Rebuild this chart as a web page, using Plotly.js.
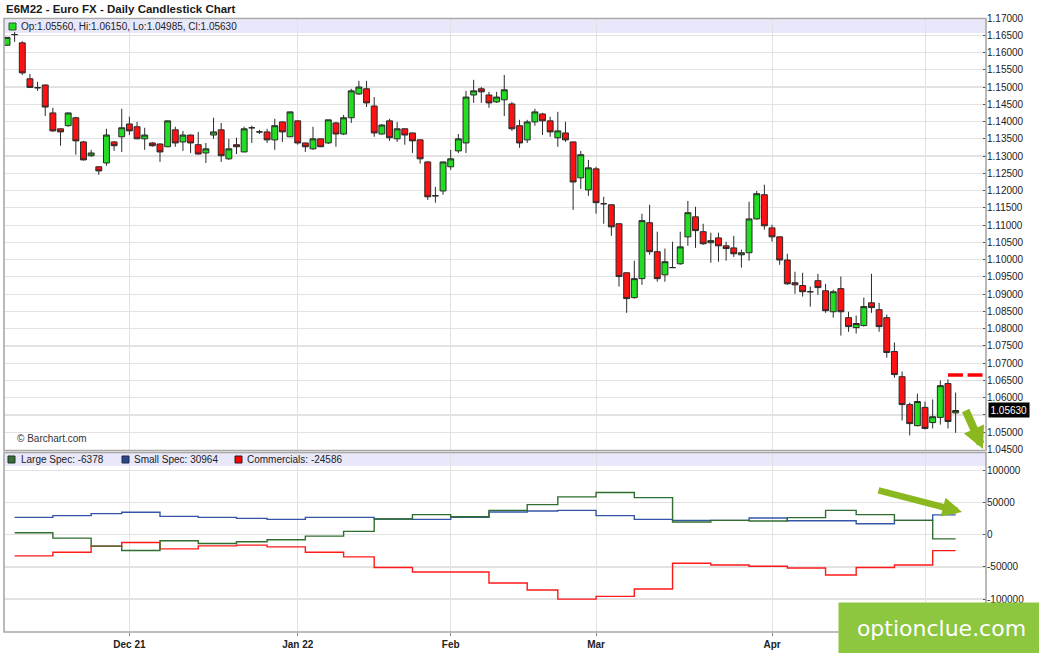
<!DOCTYPE html>
<html><head><meta charset="utf-8">
<script src="https://cdn.plot.ly/plotly-3.0.1.min.js"></script>
<style>html,body{margin:0;padding:0;background:#fff}#chart{width:1039px;height:653px}</style>
</head><body>
<div id="chart"></div>
<script>
// ---- Daily candles (index 0 = Nov 8 2021, trading days) ----
const opens = [1.1621,1.1652,1.1628,1.1524,1.1498,1.1506,1.1425,1.1379,1.1388,1.1411,
1.1341,1.1301,1.1269,1.1280,1.1341,1.1356,1.1393,1.1385,1.1350,1.1338,
1.1335,1.1327,1.1376,1.1341,1.1361,1.1333,1.1309,1.1361,1.1376,1.1292,
1.1333,1.1312,1.1382,1.1370,1.1370,1.1347,1.1399,1.1356,1.1402,1.1338,
1.1321,1.1350,1.1338,1.1396,1.1364,1.1411,1.1480,1.1495,1.1445,1.1364,
1.1402,1.1350,1.1379,1.1367,1.1347,1.1283,1.1185,1.1199,1.1269,1.1315,
1.1338,1.1477,1.1495,1.1477,1.1457,1.1463,1.1451,1.1388,1.1347,1.1399,
1.1422,1.1402,1.1353,1.1367,1.1341,1.1237,1.1202,1.1263,1.1162,1.1159,
1.1104,1.0962,1.0890,1.0945,1.1107,1.1023,1.0956,1.0977,1.0988,1.1066,
1.1124,1.1081,1.1049,1.1063,1.1040,1.1034,1.1014,1.1020,1.1118,1.1188,
1.1092,1.1066,1.0999,1.0933,1.0925,1.0907,1.0939,1.0910,1.0849,1.0916,
1.0832,1.0803,1.0809,1.0875,1.0855,1.0832,1.0734,1.0661,1.0580,1.0519,
1.0572,1.0528,1.0543,1.0641,1.05560];
const highs = [1.1645,1.1659,1.1633,1.1538,1.1515,1.1507,1.1440,1.1380,1.1426,1.1414,
1.1344,1.1318,1.1270,1.1379,1.1343,1.1437,1.1414,1.1399,1.1382,1.1341,
1.1337,1.1403,1.1385,1.1373,1.1362,1.1370,1.1338,1.1411,1.1396,1.1350,
1.1353,1.1385,1.1388,1.1376,1.1379,1.1408,1.1400,1.1429,1.1403,1.1339,
1.1385,1.1350,1.1405,1.1399,1.1419,1.1495,1.1518,1.1518,1.1471,1.1393,
1.1408,1.1399,1.1380,1.1368,1.1348,1.1285,1.1211,1.1284,1.1318,1.1364,
1.1489,1.1521,1.1500,1.1486,1.1486,1.1535,1.1457,1.1405,1.1405,1.1437,
1.1425,1.1414,1.1428,1.1399,1.1342,1.1315,1.1289,1.1269,1.1182,1.1160,
1.1105,1.0963,1.0997,1.1133,1.1159,1.1081,1.1032,1.1052,1.1081,1.1170,
1.1153,1.1104,1.1078,1.1078,1.1052,1.1069,1.1029,1.1168,1.1199,1.1217,
1.1101,1.1067,1.1017,1.0965,1.0962,1.0922,1.0959,1.0930,1.0913,1.0951,
1.0849,1.0838,1.0890,1.0959,1.0875,1.0841,1.0760,1.0676,1.0586,1.0612,
1.0589,1.0595,1.0650,1.0653,1.06150];
const lows = [1.1619,1.1631,1.1535,1.1497,1.1489,1.1416,1.1370,1.1330,1.1385,1.1304,
1.1287,1.1298,1.1246,1.1272,1.1315,1.1312,1.1361,1.1349,1.1318,1.1327,
1.1283,1.1326,1.1327,1.1315,1.1309,1.1304,1.1280,1.1350,1.1283,1.1289,
1.1306,1.1311,1.1338,1.1364,1.1338,1.1318,1.1341,1.1355,1.1333,1.1312,
1.1318,1.1326,1.1335,1.1327,1.1361,1.1396,1.1477,1.1442,1.1356,1.1362,
1.1344,1.1341,1.1333,1.1309,1.1278,1.1173,1.1165,1.1188,1.1260,1.1309,
1.1309,1.1454,1.1454,1.1440,1.1454,1.1416,1.1373,1.1324,1.1338,1.1388,
1.1361,1.1356,1.1327,1.1341,1.1144,1.1205,1.1185,1.1133,1.1104,1.1069,
1.0922,1.0846,1.0887,1.0927,1.1014,1.0936,1.0936,1.0976,1.0985,1.1040,
1.1034,1.1043,1.0991,1.0994,1.0997,1.1008,1.0977,1.0997,1.1116,1.1087,
1.1052,1.0985,1.0927,1.0901,1.0893,1.0864,1.0898,1.0846,1.0832,1.0780,
1.0791,1.0786,1.0806,1.0846,1.0791,1.0716,1.0658,1.0534,1.0491,1.0517,
1.0508,1.0511,1.0522,1.0511,1.04985];
const closes = [1.1644,1.1652,1.1541,1.1499,1.1498,1.1442,1.1373,1.1370,1.1425,1.1344,
1.1289,1.1309,1.1257,1.1361,1.1330,1.1382,1.1373,1.1350,1.1361,1.1330,
1.1312,1.1402,1.1338,1.1361,1.1338,1.1306,1.1321,1.1370,1.1301,1.1321,
1.1327,1.1379,1.1382,1.1370,1.1347,1.1388,1.1370,1.1428,1.1338,1.1327,
1.1350,1.1327,1.1405,1.1364,1.1411,1.1489,1.1500,1.1454,1.1367,1.1390,
1.1353,1.1379,1.1361,1.1344,1.1292,1.1182,1.1185,1.1283,1.1292,1.1350,
1.1471,1.1489,1.1486,1.1454,1.1471,1.1492,1.1379,1.1338,1.1399,1.1428,
1.1402,1.1370,1.1373,1.1347,1.1225,1.1304,1.1266,1.1165,1.1162,1.1095,
1.0951,1.0887,1.0945,1.1113,1.1023,1.0945,1.0994,1.0977,1.1037,1.1136,
1.1084,1.1046,1.1055,1.1040,1.1032,1.1017,1.1020,1.1118,1.1191,1.1098,
1.1066,1.0999,1.0930,1.0927,1.0907,1.0907,1.0919,1.0852,1.0907,1.0849,
1.0806,1.0815,1.0864,1.0861,1.0806,1.0731,1.0667,1.0580,1.0525,1.0589,
1.0511,1.0545,1.0635,1.0531,1.05630];

// month labels (candle index of first trading day)
const tickIdx = [16, 38, 58, 77, 100, 120];
const tickLabels = ['Dec 21', 'Jan 22', 'Feb', 'Mar', 'Apr', 'May'];

// price axis ticks
const priceTicks = [1.045,1.050,1.055,1.060,1.065,1.070,1.075,1.080,1.085,1.090,1.095,1.100,1.105,
  1.110,1.115,1.120,1.125,1.130,1.135,1.140,1.145,1.150,1.155,1.160,1.165,1.170];

// ---- Weekly COT net positions (week start = candle index) ----
const cotWeekStart = [1,6,11,15,20,25,30,34,39,44,48,53,58,63,68,72,77,82,87,92,97,102,107,111,116,121];
const cotLastIdx = 124;
const largeSpec = [3125,-5200,-17700,-24500,-9400,-13500,-10900,-7800,-2100,5200,24500,31250,28100,
  38000,46900,58900,65600,57800,19800,22400,21400,26600,38000,31250,22400,-6378];
const smallSpec = [27100,29700,32800,34900,28650,27100,25500,23960,27100,27100,24480,24000,27100,
  35400,37000,38000,29700,24000,22400,22400,26000,21900,21900,17200,22400,30964];
const commercials = [-32800,-27100,-17700,-12000,-21900,-17200,-16100,-18750,-27100,-34400,-51000,-57800,-57800,
  -75000,-85900,-100000,-95800,-84400,-44300,-46900,-49000,-51600,-62500,-51000,-46900,-24586];
const cotTicks = [-100000, -50000, 0, 50000, 100000];

// resistance level drawn from candle index
const resistanceLevel = 1.0666;
const resistanceFrom = 123;

// ---- geometry helpers ----
const W = 1039, H = 653, ML = 4, MR = 53, MT = 18, MB = 21;
const PW = W - ML - MR, PH = H - MT - MB;
const xp = px => (px - ML) / PW;
const yp = py => (H - MB - py) / PH;

const idx = opens.map((_, i) => i);
const last = opens.length - 1;
const xRange = [-0.39, 127.97];

function stepSeries(vals) {
  return { x: cotWeekStart.concat([cotLastIdx]), y: vals.concat([vals[vals.length - 1]]) };
}
const ls = stepSeries(largeSpec), ss = stepSeries(smallSpec), cm = stepSeries(commercials);

// price tick labels; the one under the last-price box is hidden (as in the original)
const priceTickText = priceTicks.map(v => Math.abs(v - closes[last]) < 0.0025 ? '' : v.toFixed(5));

const FONT = 'Liberation Sans, Arial, sans-serif';

const traces = [
  { type: 'candlestick', x: idx, open: opens, high: highs, low: lows, close: closes,
    xaxis: 'x2', yaxis: 'y2', hoverinfo: 'skip', whiskerwidth: 0,
    increasing: { fillcolor: '#22dd22', line: { color: '#2a2a2a', width: 1 } },
    decreasing: { fillcolor: '#ff1111', line: { color: '#2a2a2a', width: 1 } } },
  { type: 'scatter', mode: 'lines', x: ss.x, y: ss.y, xaxis: 'x', yaxis: 'y',
    line: { shape: 'hv', color: '#3556a8', width: 1.4 }, hoverinfo: 'skip' },
  { type: 'scatter', mode: 'lines', x: cm.x, y: cm.y, xaxis: 'x', yaxis: 'y',
    line: { shape: 'hv', color: '#ff1a1a', width: 1.4 }, hoverinfo: 'skip' },
  { type: 'scatter', mode: 'lines', x: ls.x, y: ls.y, xaxis: 'x', yaxis: 'y',
    line: { shape: 'hv', color: '#2f6e2f', width: 1.4 }, hoverinfo: 'skip' }
];

const grid = '#e2e2e2';
const frame = '#a8a8a8';
const band = '#e8e8fa';

const shapes = [
  // legend bands
  { type: 'rect', layer: 'below', xref: 'paper', yref: 'paper', x0: xp(4.5), x1: 1, y0: yp(33), y1: yp(19.5), fillcolor: band, line: { width: 0 } },
  { type: 'rect', layer: 'below', xref: 'paper', yref: 'paper', x0: xp(4.5), x1: 1, y0: yp(466), y1: yp(452.5), fillcolor: band, line: { width: 0 } },
  // panel frames
  { type: 'rect', layer: 'above', xref: 'paper', yref: 'paper', x0: 0, x1: 1, y0: yp(450.5), y1: yp(18.5), line: { color: frame, width: 1.6 } },
  { type: 'rect', layer: 'above', xref: 'paper', yref: 'paper', x0: 0, x1: 1, y0: 0, y1: yp(452.5), line: { color: frame, width: 1.6 } },
  // legend squares
  { type: 'rect', xref: 'paper', yref: 'paper', x0: xp(9), x1: xp(16), y0: yp(30), y1: yp(23), fillcolor: '#22dd22', line: { color: '#2a5a2a', width: 1 } },
  { type: 'rect', xref: 'paper', yref: 'paper', x0: xp(8), x1: xp(15), y0: yp(463), y1: yp(456), fillcolor: '#3d6b3d', line: { color: '#1e3a1e', width: 1 } },
  { type: 'rect', xref: 'paper', yref: 'paper', x0: xp(122), x1: xp(129), y0: yp(463), y1: yp(456), fillcolor: '#2e4785', line: { color: '#1a2850', width: 1 } },
  { type: 'rect', xref: 'paper', yref: 'paper', x0: xp(235), x1: xp(242), y0: yp(463), y1: yp(456), fillcolor: '#ff0000', line: { color: '#222', width: 1 } },
  // resistance dashed level
  { type: 'line', xref: 'x2', yref: 'y2', x0: resistanceFrom, x1: xRange[1] - 0.45, y0: resistanceLevel, y1: resistanceLevel,
    line: { color: '#ff0000', width: 3.6, dash: '15px,4.6px' } }
];

const annotations = [
  { xref: 'paper', yref: 'paper', x: xp(4), y: 1 + 9 / PH, xanchor: 'left', yanchor: 'middle', showarrow: false,
    text: '<b>E6M22 - Euro FX - Daily Candlestick Chart</b>', font: { family: FONT, size: 11.5, color: '#1a1a1a' } },
  { xref: 'paper', yref: 'paper', x: xp(19), y: yp(26.5), xanchor: 'left', yanchor: 'middle', showarrow: false,
    text: 'Op:' + opens[last].toFixed(5) + ', Hi:' + highs[last].toFixed(5) + ', Lo:' + lows[last].toFixed(5) + ', Cl:' + closes[last].toFixed(5),
    font: { family: FONT, size: 10, color: '#222' } },
  { xref: 'paper', yref: 'paper', x: xp(19), y: yp(459.5), xanchor: 'left', yanchor: 'middle', showarrow: false,
    text: 'Large Spec: ' + largeSpec[largeSpec.length - 1], font: { family: FONT, size: 10, color: '#222' } },
  { xref: 'paper', yref: 'paper', x: xp(132), y: yp(459.5), xanchor: 'left', yanchor: 'middle', showarrow: false,
    text: 'Small Spec: ' + smallSpec[smallSpec.length - 1], font: { family: FONT, size: 10, color: '#222' } },
  { xref: 'paper', yref: 'paper', x: xp(245), y: yp(459.5), xanchor: 'left', yanchor: 'middle', showarrow: false,
    text: 'Commercials: ' + commercials[commercials.length - 1], font: { family: FONT, size: 10, color: '#222' } },
  { xref: 'paper', yref: 'paper', x: xp(15), y: yp(438), xanchor: 'left', yanchor: 'middle', showarrow: false,
    text: '© Barchart.com', font: { family: FONT, size: 10, color: '#333' } },
  // last price box
  { xref: 'paper', yref: 'y2', x: 1, y: closes[last], xanchor: 'left', yanchor: 'middle', xshift: 2, showarrow: false,
    text: closes[last].toFixed(5), bgcolor: '#000', borderpad: 1.5, font: { family: FONT, size: 10, color: '#fff' } },
  // arrows
  { xref: 'paper', yref: 'paper', x: xp(983), y: yp(449), ax: -18, ay: -40, axref: 'pixel', ayref: 'pixel',
    showarrow: true, arrowhead: 2, arrowsize: 0.55, arrowwidth: 8, arrowcolor: '#8ab81e', text: '' },
  { xref: 'paper', yref: 'paper', x: xp(962), y: yp(512), ax: -85, ay: -22, axref: 'pixel', ayref: 'pixel',
    showarrow: true, arrowhead: 2, arrowsize: 0.6, arrowwidth: 6.5, arrowcolor: '#8ab81e', text: '' },
  // watermark
  { xref: 'paper', yref: 'paper', x: xp(838), y: yp(602), xanchor: 'left', yanchor: 'top', showarrow: false,
    width: 205, height: 51, bgcolor: '#8dc63f', borderpad: 0, align: 'center', valign: 'middle',
    text: 'optionclue.com', font: { family: 'DejaVu Sans, sans-serif', size: 22, color: '#ffffff' } }
];

const layout = {
  width: W, height: H,
  margin: { l: ML, r: MR, t: MT, b: MB },
  paper_bgcolor: '#ffffff', plot_bgcolor: '#ffffff',
  showlegend: false, hovermode: false, dragmode: false,
  boxgap: 0.12, boxgroupgap: 0.12,
  xaxis: { domain: [0, 1], anchor: 'y', range: xRange, tickmode: 'array', tickvals: tickIdx, ticktext: tickLabels,
    showgrid: true, gridcolor: grid, gridwidth: 1, zeroline: false, showline: false,
    ticks: 'outside', ticklen: 3, tickcolor: '#888',
    tickfont: { family: FONT, size: 10, color: '#222', weight: 'bold' } },
  xaxis2: { domain: [0, 1], anchor: 'y2', range: xRange, tickmode: 'array', tickvals: tickIdx,
    showticklabels: false, showgrid: true, gridcolor: grid, gridwidth: 1, zeroline: false, ticks: '',
    rangeslider: { visible: false } },
  yaxis: { domain: [0, yp(452.5)], anchor: 'x', side: 'right', range: [-151160, 127900],
    tickmode: 'array', tickvals: cotTicks, ticktext: cotTicks.map(String),
    showgrid: true, gridcolor: grid, gridwidth: 1.2, zeroline: false,
    ticks: 'inside', ticklen: 3, tickcolor: '#555', showline: false,
    tickfont: { family: FONT, size: 10, color: '#222' } },
  yaxis2: { domain: [yp(450.5), 1], anchor: 'x2', side: 'right', range: [1.04471, 1.17],
    tickmode: 'array', tickvals: priceTicks, ticktext: priceTickText,
    showgrid: true, gridcolor: grid, gridwidth: 1.2, zeroline: false,
    ticks: 'inside', ticklen: 3, tickcolor: '#555', showline: false,
    tickfont: { family: FONT, size: 10, color: '#222' } },
  shapes: shapes,
  annotations: annotations
};

Plotly.newPlot('chart', traces, layout, { staticPlot: true, displayModeBar: false });
</script>
</body></html>
